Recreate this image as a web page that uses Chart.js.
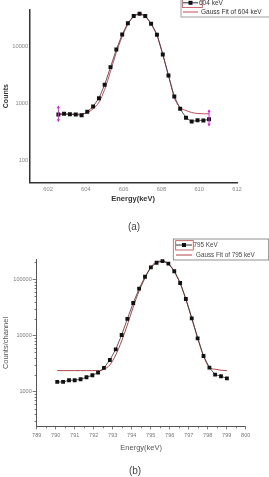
<!DOCTYPE html>
<html><head><meta charset="utf-8">
<script src="https://cdn.jsdelivr.net/npm/chart.js@4/dist/chart.umd.min.js"></script>
<style>
html,body{margin:0;padding:0;background:#fff;width:269px;height:477px;overflow:hidden;}
canvas{position:absolute;left:0;}
#ca{top:0;}
#cb{top:230px;}
.cap{position:absolute;font-family:"Liberation Sans",Arial,sans-serif;font-size:10px;color:#444;width:40px;text-align:center;line-height:10px;}
</style></head><body>
<canvas id="ca" width="269" height="215" style="width:269px;height:215px"></canvas>
<canvas id="cb" width="269" height="235" style="width:269px;height:235px"></canvas>
<div class="cap" style="left:114px;top:222px;">(a)</div>
<div class="cap" style="left:115px;top:466px;">(b)</div>
<script>
// ---------- Chart (a) data ----------
const energyA = [602.54,602.84,603.15,603.46,603.77,604.07,604.38,604.69,604.99,605.30,605.61,605.92,606.22,606.53,606.84,607.14,607.45,607.76,608.07,608.37,608.68,608.99,609.30,609.60,609.91,610.22,610.52];
const countsA = [641,660,650,640,623,714,886,1240,2130,4340,8860,16200,25600,34200,37500,34200,25000,16000,7240,3100,1330,807,561,483,509,503,530];
const fitA    = [650,650,650,650,655,695,807,1054,1760,3640,7850,14970,24400,33900,37500,34200,25000,16000,7240,3100,1270,850,754,695,668,660,660];
const errIdxA = [0, 26];
const errLoA  = [489, 411];
const errHiA  = [897, 763];
const xTicksA = [602,604,606,608,610,612];
const yTicksA = [100,1000,10000];
const labelsA = ['604 keV','Gauss Fit of 604 keV'];

// ---------- Chart (b) data ----------
const energyB = [790.08,790.39,790.70,791.00,791.31,791.62,791.93,792.23,792.54,792.85,793.16,793.47,793.77,794.08,794.39,794.70,795.01,795.31,795.62,795.93,796.24,796.55,796.85,797.16,797.47,797.78,798.09,798.39,798.70,799.01];
const countsB = [1489,1490,1596,1596,1664,1804,1958,2178,2644,3664,5670,10200,19700,37900,68100,111000,163000,197000,212000,190000,139000,85900,44600,20200,8910,4320,2675,2010,1880,1730];
const fitB    = [2370,2370,2370,2370,2370,2370,2370,2370,2500,2990,4500,7980,15400,32100,61900,105000,166000,203000,212000,191000,140000,86000,44600,20500,9200,4320,2700,2506,2410,2370];
const xTicksB = [789,790,791,792,793,794,795,796,797,798,799,800];
const xMinorB = [789.5,790.5,791.5,792.5,793.5,794.5,795.5,796.5,797.5,798.5,799.5];
const yTicksB = [1000,10000,100000];
const yMinorB = [300,400,500,600,700,800,900,2000,3000,4000,5000,6000,7000,8000,9000,20000,30000,40000,50000,60000,70000,80000,90000,200000];
const labelsB = ['795 KeV','Gauss Fit of 795 keV'];

const FONT = '"Liberation Sans", Arial, sans-serif';
const pts = (xs, ys) => xs.map((x, i) => ({x: x, y: ys[i]}));

const boxLegend = {
  id: 'boxLegend',
  afterDraw(chart, args, o) {
    const ctx = chart.ctx;
    ctx.save();
    ctx.strokeStyle = o.frameColor; ctx.lineWidth = 0.8;
    ctx.strokeRect(o.x, o.y, o.w, o.h);
    chart.data.datasets.forEach((ds, i) => {
      const cy = o.rows[i];
      ctx.strokeStyle = ds.borderColor; ctx.lineWidth = 1;
      ctx.beginPath(); ctx.moveTo(o.sx0, cy); ctx.lineTo(o.sx1, cy); ctx.stroke();
      if (ds.pointRadius > 0) {
        ctx.fillStyle = ds.pointBackgroundColor;
        const m = (o.sx0 + o.sx1) / 2;
        ctx.fillRect(m - 2, cy - 2, 4, 4);
      }
      ctx.fillStyle = o.textColor;
      ctx.font = o.fontSize + 'px ' + FONT;
      ctx.textBaseline = 'middle';
      ctx.fillText(ds.label, o.tx[i], cy);
    });
    if (o.hl) {
      ctx.strokeStyle = o.hl.color; ctx.lineWidth = 0.8;
      ctx.strokeRect(o.hl.x, o.hl.y, o.hl.w, o.hl.h);
    }
    ctx.restore();
  }
};

const errBars = {
  id: 'errBars',
  afterDatasetsDraw(chart, args, o) {
    const ctx = chart.ctx, xs = chart.scales.x, ys = chart.scales.y;
    const d = chart.data.datasets[0].data;
    ctx.save();
    ctx.strokeStyle = o.color; ctx.fillStyle = o.color; ctx.lineWidth = 1;
    o.idx.forEach((k, j) => {
      const px = xs.getPixelForValue(d[k].x);
      const yl = ys.getPixelForValue(o.lo[j]);
      const yh = ys.getPixelForValue(o.hi[j]);
      ctx.beginPath(); ctx.moveTo(px, yl); ctx.lineTo(px, yh); ctx.stroke();
      ctx.beginPath(); ctx.moveTo(px, yh - 1); ctx.lineTo(px - 1.6, yh + 2); ctx.lineTo(px + 1.6, yh + 2); ctx.closePath(); ctx.fill();
      ctx.beginPath(); ctx.moveTo(px, yl + 1); ctx.lineTo(px - 1.6, yl - 2); ctx.lineTo(px + 1.6, yl - 2); ctx.closePath(); ctx.fill();
    });
    ctx.restore();
  }
};

const minorTicks = {
  id: 'minorTicks',
  afterDraw(chart, args, o) {
    const ctx = chart.ctx, xs = chart.scales.x, ys = chart.scales.y;
    ctx.save();
    ctx.strokeStyle = o.color; ctx.lineWidth = 0.8;
    ctx.beginPath();
    o.x.forEach(v => { const p = Math.round(xs.getPixelForValue(v)) + 0.5; ctx.moveTo(p, xs.top); ctx.lineTo(p, xs.top + o.lenX); });
    o.y.forEach(v => { const p = Math.round(ys.getPixelForValue(v)) + 0.5; ctx.moveTo(ys.right, p); ctx.lineTo(ys.right - o.lenY, p); });
    ctx.stroke();
    ctx.restore();
  }
};

// ---------- Chart (a) ----------
new Chart(document.getElementById('ca'), {
  type: 'line',
  data: { datasets: [
    { label: labelsA[0], data: pts(energyA, countsA), borderColor: '#333', borderWidth: 0.8,
      pointStyle: 'rect', pointRadius: 2.8, pointBorderWidth: 0, pointBackgroundColor: '#111', order: 1 },
    { label: labelsA[1], data: pts(energyA, fitA), borderColor: '#c24a58', borderWidth: 1,
      pointRadius: 0, cubicInterpolationMode: 'monotone', order: 2 }
  ]},
  options: {
    responsive: false, animation: false,
    layout: { padding: { left: 0, right: 32, top: 10, bottom: 0 } },
    plugins: {
      legend: { display: false }, tooltip: { enabled: false },
      boxLegend: { x: 181, y: -2, w: 95, h: 19, rows: [2.8, 12], sx0: 183, sx1: 198, tx: [199, 201],
        fontSize: 6.5, textColor: '#333', frameColor: '#888',
        hl: { color: '#c24a58', x: 182.5, y: -1, w: 20, h: 8.5 } },
      errBars: { idx: errIdxA, lo: errLoA, hi: errHiA, color: '#e020e0' }
    },
    scales: {
      x: { type: 'linear', min: 601, max: 612,
        afterFit: s => { s.height = 32.7; },
        afterBuildTicks: s => { s.ticks = xTicksA.map(v => ({ value: v })); },
        grid: { display: false, drawTicks: false },
        border: { display: true, color: '#333', width: 1.5 },
        ticks: { padding: 4, color: '#888', font: { size: 5.8, family: FONT }, callback: v => String(v), maxRotation: 0, autoSkip: false },
        title: { display: true, text: 'Energy(keV)', color: '#333', font: { size: 7.5, weight: 'bold', family: FONT }, padding: { top: 0, bottom: 11.5 } }
      },
      y: { type: 'logarithmic', min: 41.5, max: 43600,
        afterFit: s => { s.width = 29.3; },
        afterBuildTicks: s => { s.ticks = yTicksA.map(v => ({ value: v })); },
        grid: { display: false, drawTicks: false },
        border: { display: true, color: '#333', width: 1.5 },
        ticks: { padding: 1, color: '#888', font: { size: 5.8, family: FONT }, callback: v => String(v), autoSkip: false },
        title: { display: true, text: 'Counts', color: '#333', font: { size: 7, weight: 'bold', family: FONT }, padding: { top: 2, bottom: 0 } }
      }
    }
  },
  plugins: [boxLegend, errBars]
});

// ---------- Chart (b) ----------
new Chart(document.getElementById('cb'), {
  type: 'line',
  data: { datasets: [
    { label: labelsB[0], data: pts(energyB, countsB), borderColor: '#333', borderWidth: 0.8,
      pointStyle: 'rect', pointRadius: 2.7, pointBorderWidth: 0, pointBackgroundColor: '#111', order: 1 },
    { label: labelsB[1], data: pts(energyB, fitB), borderColor: '#b04545', borderWidth: 1,
      pointRadius: 0, cubicInterpolationMode: 'monotone', order: 2 }
  ]},
  options: {
    responsive: false, animation: false,
    layout: { padding: { left: 0, right: 23.3, top: 29.3, bottom: 0 } },
    plugins: {
      legend: { display: false }, tooltip: { enabled: false },
      boxLegend: { x: 173.3, y: 9, w: 95.4, h: 21, rows: [15, 25], sx0: 176, sx1: 192, tx: [193.5, 196],
        fontSize: 6.3, textColor: '#444', frameColor: '#777',
        hl: { color: '#b04545', x: 175.7, y: 10.7, w: 17.6, h: 9.3 } },
      minorTicks: { x: xMinorB, y: yMinorB, lenX: 1.6, lenY: 2.2, color: '#555' }
    },
    scales: {
      x: { type: 'linear', min: 789, max: 800,
        afterFit: s => { s.height = 38.3; },
        afterBuildTicks: s => { s.ticks = xTicksB.map(v => ({ value: v })); },
        grid: { display: true, drawOnChartArea: false, drawTicks: true, tickLength: 2.7, color: '#555', lineWidth: 0.8 },
        border: { display: true, color: '#555', width: 1 },
        ticks: { padding: 2.3, color: '#777', font: { size: 5.5, family: FONT }, callback: v => String(v), maxRotation: 0, autoSkip: false },
        title: { display: true, text: 'Energy(keV)', color: '#555', font: { size: 7.5, family: FONT }, padding: { top: 0, bottom: 12.8 } }
      },
      y: { type: 'logarithmic', min: 238, max: 227000,
        afterFit: s => { s.width = 36.7; },
        afterBuildTicks: s => { s.ticks = yTicksB.map(v => ({ value: v })); },
        grid: { display: true, drawOnChartArea: false, drawTicks: true, tickLength: 4, color: '#555', lineWidth: 0.8 },
        border: { display: true, color: '#555', width: 1 },
        ticks: { padding: 1, color: '#777', font: { size: 5.5, family: FONT }, callback: v => String(v), autoSkip: false },
        title: { display: true, text: 'Counts/channel', color: '#555', font: { size: 7.5, family: FONT }, padding: { top: 1.5, bottom: 0 } }
      }
    }
  },
  plugins: [boxLegend, minorTicks]
});
</script>
</body></html>
